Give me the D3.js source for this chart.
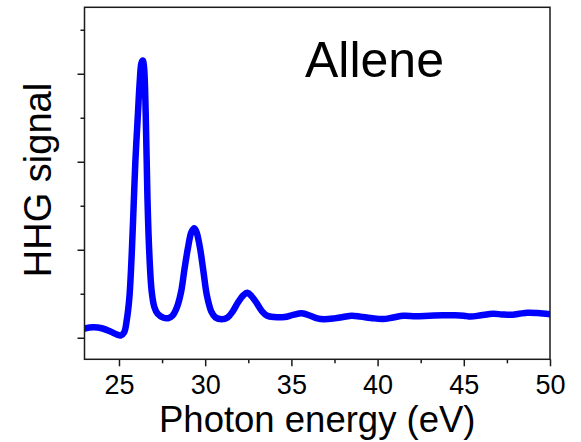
<!DOCTYPE html>
<html>
<head>
<meta charset="utf-8">
<script src="https://cdn.jsdelivr.net/npm/d3@7"></script>
<style>
  html, body { margin: 0; padding: 0; background: #fff; }
  svg { display: block; }
  text { font-family: "Liberation Sans", Arial, sans-serif; fill: #000; }
</style>
</head>
<body>
<svg id="chart" width="581" height="442"></svg>
<script>
// Photon energy (eV)
const energy = [23.0, 23.5, 24.0, 24.5, 24.9, 25.1, 25.3, 25.45, 25.6, 25.75, 25.85, 25.95, 26.1, 26.2, 26.3, 26.38, 26.45, 26.55, 26.65, 26.75, 26.9, 27.05, 27.25, 27.55, 27.85, 28.1, 28.35, 28.6, 28.8, 29.0, 29.2, 29.37, 29.5, 29.7, 29.9, 30.1, 30.35, 30.6, 30.95, 31.3, 31.6, 31.9, 32.2, 32.45, 32.7, 33.0, 33.3, 33.6, 34.0, 34.6, 35.1, 35.6, 36.1, 36.5, 36.9, 37.5, 38.0, 38.5, 39.0, 39.6, 40.3, 40.9, 41.5, 42.2, 43.0, 43.8, 44.5, 45.0, 45.4, 46.0, 46.7, 47.2, 47.7, 48.2, 48.7, 49.3, 50.0];
// HHG signal (arb. units)
const signal = [0.105, 0.118, 0.108, 0.072, 0.035, 0.025, 0.06, 0.2, 0.45, 1.0, 1.5, 2.0, 2.55, 2.9, 3.12, 3.15, 3.08, 2.55, 1.6, 1.0, 0.52, 0.35, 0.27, 0.23, 0.222, 0.25, 0.34, 0.52, 0.78, 1.02, 1.2, 1.245, 1.2, 1.02, 0.75, 0.48, 0.3, 0.23, 0.21, 0.23, 0.3, 0.4, 0.48, 0.51, 0.47, 0.39, 0.3, 0.25, 0.235, 0.235, 0.26, 0.278, 0.25, 0.22, 0.21, 0.22, 0.235, 0.25, 0.24, 0.225, 0.212, 0.23, 0.25, 0.245, 0.25, 0.255, 0.255, 0.25, 0.24, 0.255, 0.272, 0.265, 0.26, 0.272, 0.285, 0.28, 0.266];
const xMajorTicks = [25, 30, 35, 40, 45, 50];
const xMinorTicks = [27.5, 32.5, 37.5, 42.5, 47.5];
const yMajorTicks = [0, 1, 2, 3];
const yMinorTicks = [0.5, 1.5, 2.5, 3.5];
const title = "Allene";
const xLabel = "Photon energy (eV)";
const yLabel = "HHG signal";

const svg = d3.select("#chart");
const L = 84.5, R = 550, T = 7.3, B = 359.3;

const x = d3.scaleLinear().domain([23, 50]).range([L, R]);
const y = d3.scaleLinear().domain([-0.245, 3.755]).range([B, T]);

const axisColor = "#1a1a1a";

// X axis major ticks with labels
const gx = svg.append("g").attr("transform", `translate(0,${B})`)
  .call(d3.axisBottom(x).tickValues(xMajorTicks).tickSize(7).tickPadding(0).tickFormat(d3.format("d")));
gx.select(".domain").remove();
gx.selectAll("line").attr("stroke", axisColor).attr("stroke-width", 1.5);
gx.selectAll("text").attr("dy", null).attr("y", 35)
  .style("font-size", "27px").style("font-family", "Liberation Sans, Arial, sans-serif").attr("fill", "#000");

const gxm = svg.append("g").attr("transform", `translate(0,${B})`)
  .call(d3.axisBottom(x).tickValues(xMinorTicks).tickSize(4).tickFormat(""));
gxm.select(".domain").remove();
gxm.selectAll("line").attr("stroke", axisColor).attr("stroke-width", 1.5);

// Y axis ticks (no labels)
const gy = svg.append("g").attr("transform", `translate(${L},0)`)
  .call(d3.axisLeft(y).tickValues(yMajorTicks).tickSize(7).tickFormat(""));
gy.select(".domain").remove();
gy.selectAll("line").attr("stroke", axisColor).attr("stroke-width", 1.5);

const gym = svg.append("g").attr("transform", `translate(${L},0)`)
  .call(d3.axisLeft(y).tickValues(yMinorTicks).tickSize(4).tickFormat(""));
gym.select(".domain").remove();
gym.selectAll("line").attr("stroke", axisColor).attr("stroke-width", 1.5);

// clip
svg.append("clipPath").attr("id", "clip").append("rect")
  .attr("x", L).attr("y", T).attr("width", R - L).attr("height", B - T);

const data = energy.map((e, i) => [e, signal[i]]);
const line = d3.line().x(d => x(d[0])).y(d => y(d[1])).curve(d3.curveCatmullRom.alpha(0.5));
svg.append("path").datum(data)
  .attr("clip-path", "url(#clip)")
  .attr("fill", "none").attr("stroke", "#0000ff").attr("stroke-width", 6.5)
  .attr("stroke-linejoin", "round").attr("stroke-linecap", "round")
  .attr("d", line);

// frame
svg.append("rect").attr("x", L).attr("y", T).attr("width", R - L).attr("height", B - T)
  .attr("fill", "none").attr("stroke", axisColor).attr("stroke-width", 1.5);

// title
svg.append("text").attr("x", 305).attr("y", 77).style("font-size", "50px").text(title);

// axis labels
svg.append("text").attr("x", (L + R) / 2).attr("y", 432).attr("text-anchor", "middle")
  .style("font-size", "36.5px").text(xLabel);
svg.append("text").attr("transform", `translate(51,180) rotate(-90)`).attr("text-anchor", "middle")
  .style("font-size", "38px").text(yLabel);
</script>
</body>
</html>
